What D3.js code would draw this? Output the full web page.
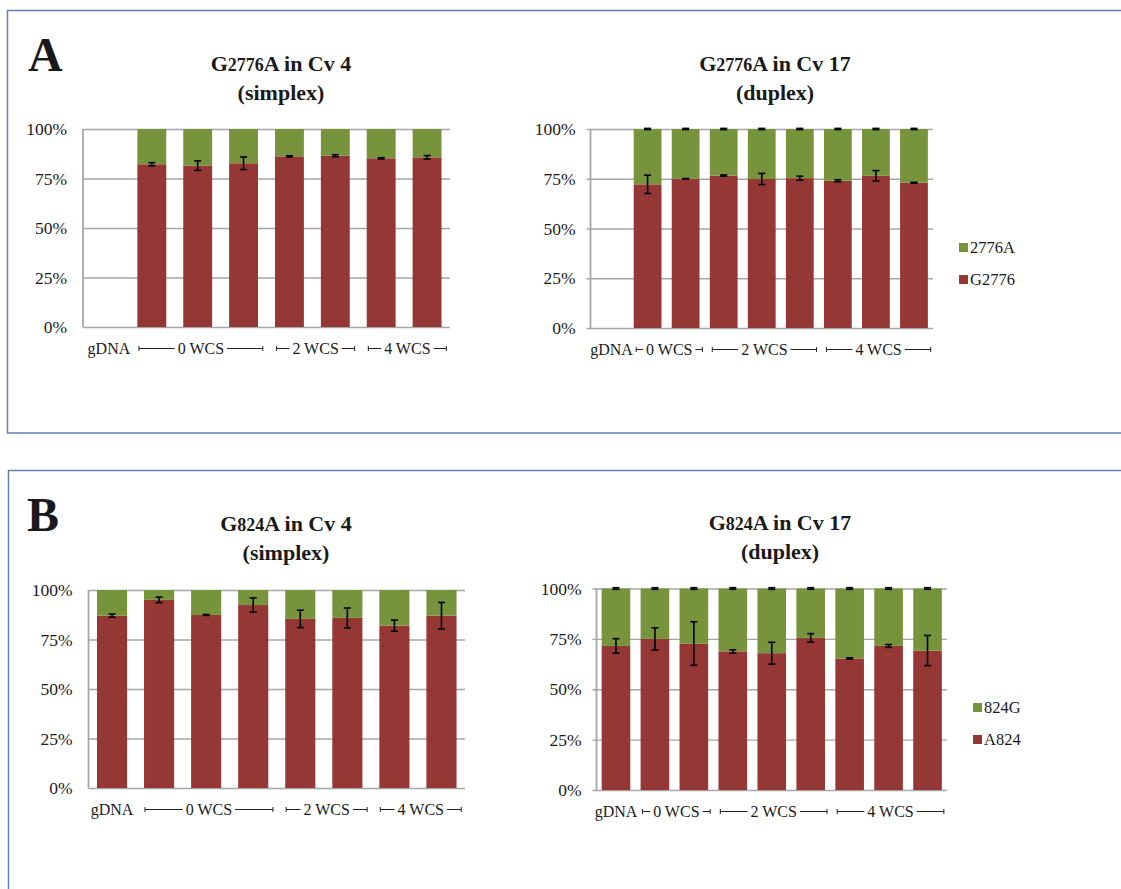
<!DOCTYPE html>
<html>
<head>
<meta charset="utf-8">
<script src="https://cdn.jsdelivr.net/npm/d3@7/dist/d3.min.js"></script>
<style>
  html, body { margin: 0; padding: 0; background: #ffffff; }
  svg { display: block; }
  text { font-family: "Liberation Serif", "LiberationSerif", "DejaVu Serif", "Noto Serif", serif; fill: #1a1a1a; }
</style>
</head>
<body>
<svg id="fig" width="1121" height="889"></svg>
<script>
// ---- samples (one bar per sample) ----
const cv4Samples  = ["gDNA", "0-1", "0-2", "0-3", "2-1", "2-2", "4-1", "4-2"];
const cv17Samples = ["gDNA", "0-1", "0-2", "2-1", "2-2", "2-3", "4-1", "4-2", "4-3"];

// ---- group labels under the x axis (index ranges into the sample lists) ----
const cv4Groups  = [["gDNA", 0, 0], ["0 WCS", 1, 3], ["2 WCS", 4, 5], ["4 WCS", 6, 7]];
const cv17Groups = [["gDNA", 0, 0], ["0 WCS", 1, 2], ["2 WCS", 3, 5], ["4 WCS", 6, 8]];

const yTicks = [0, 25, 50, 75, 100];

// ---- G2776A, percentage of the G2776 allele, with error ----
const g2776Cv4     = [null, 82.2, 81.5, 82.7, 86.2, 86.5, 85.2, 85.7];
const g2776Cv4Err  = [null, 0.8, 2.4, 3.2, 0.3, 0.5, 0.3, 0.9];
const g2776Cv17    = [null, 72.2, 75.0, 76.6, 74.9, 75.3, 74.0, 76.5, 73.0];
const g2776Cv17Err = [null, 4.6, 0.1, 0.3, 2.8, 1.0, 0.5, 2.6, 0.2];
const g2776Cv17TopErr = [null, 0.3, 0.3, 0.3, 0.3, 0.3, 0.3, 0.3, 0.3];

// ---- G824A, percentage of the A824 allele, with error ----
const a824Cv4      = [87.0, 95.0, 87.4, 92.4, 85.4, 85.9, 82.0, 87.0];
const a824Cv4Err   = [0.8, 1.4, 0.2, 3.6, 4.4, 5.0, 2.8, 6.7];
const a824Cv17     = [71.5, 75.0, 72.7, 68.8, 67.9, 75.5, 65.3, 71.5, 69.2];
const a824Cv17Err  = [3.6, 5.5, 10.8, 0.8, 5.4, 2.1, 0.3, 0.7, 7.5];
const a824Cv17TopErr = [0.4, 0.4, 0.4, 0.4, 0.4, 0.4, 0.4, 0.4, 0.4];

const RED = "#953735";
const GREEN = "#77933c";
const GRID = "#a6a6a6";
const FONT = "'Liberation Serif', 'LiberationSerif', 'DejaVu Serif', 'Noto Serif', serif";

const svg = d3.select("#fig");

// panel frames
svg.append("rect").attr("x", 7.5).attr("y", 10.5).attr("width", 1130).attr("height", 422.5)
  .attr("fill", "none").attr("stroke", "#5f80b0").attr("stroke-width", 1.5);
svg.append("rect").attr("x", 8.5).attr("y", 470.5).attr("width", 1130).attr("height", 440)
  .attr("fill", "none").attr("stroke", "#5f80b0").attr("stroke-width", 1.5);

// panel letters
svg.append("text").attr("x", 28).attr("y", 71).attr("font-size", 48).attr("font-weight", "bold").text("A");
svg.append("text").attr("x", 27).attr("y", 531).attr("font-size", 48).attr("font-weight", "bold").text("B");

function drawChart(cfg) {
  const g = svg.append("g");
  const x = d3.scaleBand().domain(cfg.samples).range([cfg.x0, cfg.x1])
    .paddingInner(cfg.pad).paddingOuter(cfg.pad / 2);
  const y = d3.scaleLinear().domain([0, 100]).range([cfg.yBot, cfg.yTop]);
  const w = cfg.x1 - cfg.x0;

  // title: marker name with smaller figures, then sample line
  const t = g.append("text").attr("x", cfg.titleX).attr("y", cfg.titleY)
    .attr("text-anchor", "middle").attr("font-size", 22).attr("font-weight", "bold");
  t.append("tspan").text(cfg.title[0]);
  t.append("tspan").attr("font-size", 18).text(cfg.title[1]);
  t.append("tspan").text(cfg.title[2]);
  g.append("text").attr("x", cfg.titleX).attr("y", cfg.titleY + 29)
    .attr("text-anchor", "middle").attr("font-size", 22).attr("font-weight", "bold").text(cfg.title[3]);

  // y axis with gridlines
  const ax = g.append("g").attr("transform", `translate(${cfg.x0 - cfg.ext},0)`)
    .call(d3.axisLeft(y).tickValues(yTicks).tickSize(-(w + cfg.ext)).tickPadding(cfg.labelGap)
      .tickFormat(d => d + "%"));
  ax.attr("font-family", FONT);
  ax.select(".domain").remove();
  ax.selectAll(".tick line").attr("stroke", GRID).attr("stroke-width", 1.3);
  ax.selectAll(".tick text").attr("font-size", 17.5).attr("fill", "#1a1a1a");
  g.append("line").attr("x1", cfg.x0).attr("x2", cfg.x0).attr("y1", cfg.yTop).attr("y2", cfg.yBot)
    .attr("stroke", GRID).attr("stroke-width", 1.8);

  const rows = cfg.samples.map((s, i) => ({ s, v: cfg.values[i], e: cfg.err[i], te: cfg.topErr ? cfg.topErr[i] : null }))
    .filter(d => d.v != null);

  // stacked bars: reference allele at the bottom, the other allele on top
  g.selectAll(".lo").data(rows).enter().append("rect")
    .attr("x", d => x(d.s)).attr("width", x.bandwidth())
    .attr("y", d => y(d.v)).attr("height", d => y(0) - y(d.v)).attr("fill", RED);
  g.selectAll(".hi").data(rows).enter().append("rect")
    .attr("x", d => x(d.s)).attr("width", x.bandwidth())
    .attr("y", y(100)).attr("height", d => y(d.v) - y(100)).attr("fill", GREEN);

  // error bars
  function errBars(data, centre, err) {
    const eb = g.append("g").attr("stroke", "#000").attr("stroke-width", 1.6);
    data.forEach(d => {
      const e = err(d); if (e == null) return;
      const cx = x(d.s) + x.bandwidth() / 2;
      const c = centre(d);
      eb.append("line").attr("x1", cx).attr("x2", cx).attr("y1", y(c + e)).attr("y2", y(c - e));
      [c + e, c - e].forEach(v => eb.append("line").attr("x1", cx - 3.5).attr("x2", cx + 3.5)
        .attr("y1", y(v)).attr("y2", y(v)));
    });
  }
  errBars(rows, d => d.v, d => d.e);
  if (cfg.topErr) errBars(rows, () => 100, d => d.te);

  // group labels with brackets
  const labY = cfg.yBot + 27;
  const bw = x.step();
  cfg.groups.forEach(([label, a, b]) => {
    if (a === b) {
      g.append("text").attr("x", x(cfg.samples[a]) + x.bandwidth() / 2 + cfg.gdnaShift).attr("y", labY)
        .attr("text-anchor", "middle").attr("font-size", 16).text(label);
      return;
    }
    const left = x(cfg.samples[a]) - x.paddingInner() * bw / 2 + cfg.inL * bw;
    const right = x(cfg.samples[b]) + x.bandwidth() + x.paddingInner() * bw / 2 - cfg.inR * bw;
    const mid = (left + right) / 2;
    const txt = g.append("text").attr("x", mid).attr("y", labY)
      .attr("text-anchor", "middle").attr("font-size", 16).text(label);
    const tl = txt.node().getComputedTextLength();
    const ly = labY - 5.5;
    const bg = g.append("g").attr("stroke", "#222").attr("stroke-width", 1);
    const l1 = Math.max(left + 2, mid - tl / 2 - 3);
    const r1 = Math.min(right - 2, mid + tl / 2 + 3);
    bg.append("line").attr("x1", left).attr("x2", l1).attr("y1", ly).attr("y2", ly);
    bg.append("line").attr("x1", r1).attr("x2", right).attr("y1", ly).attr("y2", ly);
    bg.append("line").attr("x1", left).attr("x2", left).attr("y1", ly - 2.5).attr("y2", ly + 2.5);
    bg.append("line").attr("x1", right).attr("x2", right).attr("y1", ly - 2.5).attr("y2", ly + 2.5);
  });

  // legend
  if (cfg.legend) {
    cfg.legend.forEach(([name, col], i) => {
      const ly = cfg.legendY + i * 32;
      g.append("rect").attr("x", cfg.legendX).attr("y", ly).attr("width", 9).attr("height", 9).attr("fill", col);
      g.append("text").attr("x", cfg.legendX + 11).attr("y", ly + 10).attr("font-size", 16.5).text(name);
    });
  }
}

drawChart({
  samples: cv4Samples, groups: cv4Groups, values: g2776Cv4, err: g2776Cv4Err,
  x0: 83, x1: 450, yTop: 129, yBot: 327, pad: 0.37, ext: 0, labelGap: 16,
  title: ["G", "2776", "A in Cv 4", "(simplex)"], titleX: 281, titleY: 71,
  inL: 0.22, inR: 0.08, gdnaShift: 3
});
drawChart({
  samples: cv17Samples, groups: cv17Groups, values: g2776Cv17, err: g2776Cv17Err, topErr: g2776Cv17TopErr,
  x0: 590.5, x1: 933, yTop: 129, yBot: 328, pad: 0.27, ext: 4, labelGap: 11,
  title: ["G", "2776", "A in Cv 17", "(duplex)"], titleX: 775, titleY: 71,
  inL: 0.2, inR: 0.06, gdnaShift: 2,
  legend: [["2776A", GREEN], ["G2776", RED]], legendX: 959, legendY: 243
});
drawChart({
  samples: cv4Samples, groups: cv4Groups, values: a824Cv4, err: a824Cv4Err,
  x0: 88.5, x1: 465, yTop: 590, yBot: 788, pad: 0.36, ext: 0, labelGap: 16,
  title: ["G", "824", "A in Cv 4", "(simplex)"], titleX: 286, titleY: 531,
  inL: 0.2, inR: 0.08, gdnaShift: 0
});
drawChart({
  samples: cv17Samples, groups: cv17Groups, values: a824Cv17, err: a824Cv17Err, topErr: a824Cv17TopErr,
  x0: 596.5, x1: 947, yTop: 588.5, yBot: 790, pad: 0.265, ext: 4, labelGap: 11,
  title: ["G", "824", "A in Cv 17", "(duplex)"], titleX: 780, titleY: 530,
  inL: 0.18, inR: 0.08, gdnaShift: 0,
  legend: [["824G", GREEN], ["A824", RED]], legendX: 973, legendY: 703
});
</script>
</body>
</html>
